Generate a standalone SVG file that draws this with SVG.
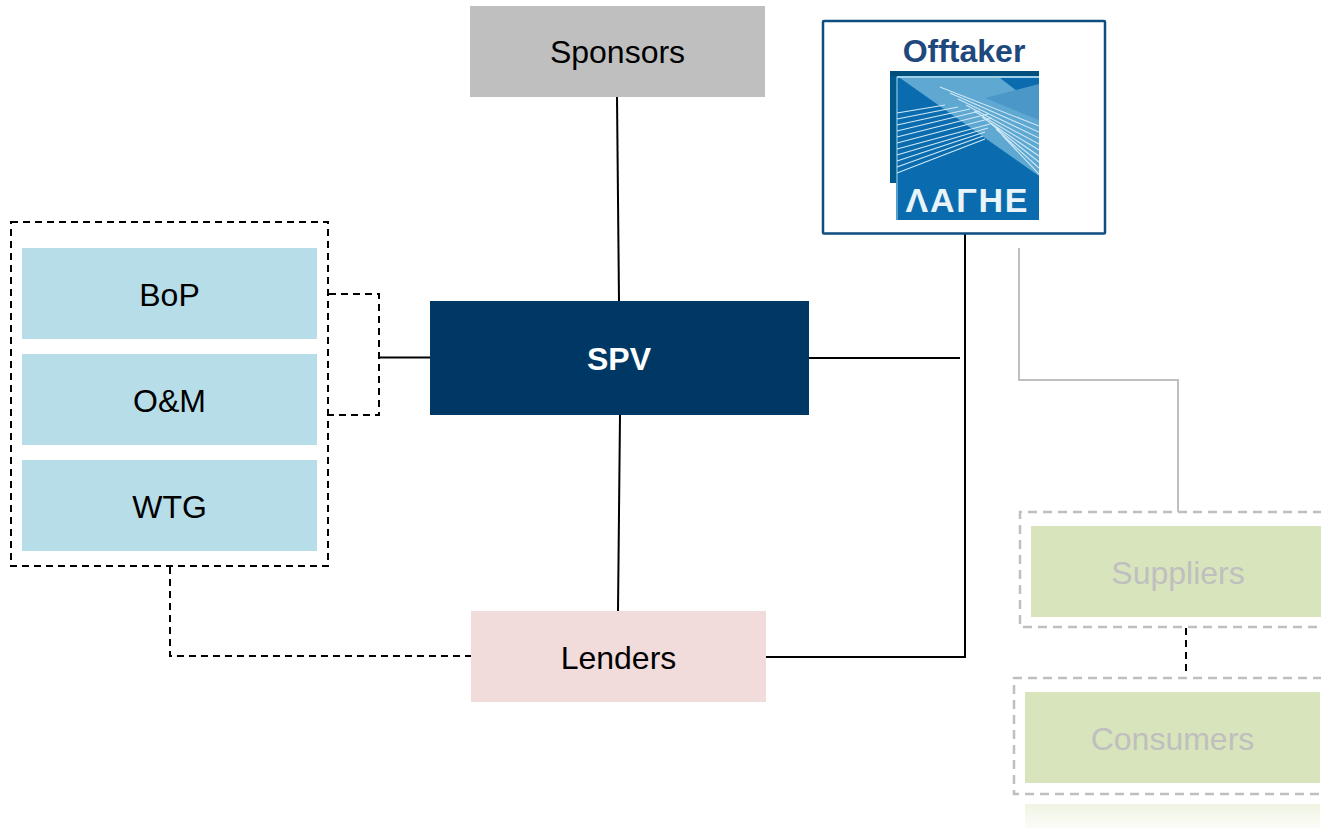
<svg xmlns="http://www.w3.org/2000/svg" width="1321" height="828" viewBox="0 0 1321 828">
<style>
text{font-family:"Liberation Sans",Arial,sans-serif;text-anchor:middle}
.l{font-size:32px;fill:#000}
.g{font-size:32px;fill:#bfbfbf}
.s{fill:none;stroke:#000;stroke-width:2}
.d{fill:none;stroke:#000;stroke-width:2;stroke-dasharray:7 5}
.gd{fill:none;stroke:#bfbfbf;stroke-width:2.500;stroke-dasharray:9 6}
.blue{fill:#b7dde8}
.green{fill:#d8e4bc}
.w{fill:none;stroke:#cfe8f5;stroke-width:1.100}
</style>
<defs>
<linearGradient id="fade" x1="0" y1="0" x2="0" y2="1"><stop offset="0" stop-color="#eff4e2"/><stop offset="1" stop-color="#fbfcf8"/></linearGradient>
<clipPath id="logoClip"><rect x="896" y="76" width="143" height="144"/></clipPath>
</defs>
<g id="connectors">
<path class="s" d="M617 97L619 301"/>
<path class="s" d="M620 415L618 611"/>
<path class="s" d="M809 358H960"/>
<path class="s" d="M965 234V657H766"/>
<path class="s" d="M380 357.500H430"/>
<path class="d" d="M329 294H379V415H329"/>
<path class="d" d="M170 567V656H471"/>
<path d="M1019 248V380H1178V512" fill="none" stroke="#bfbfbf" stroke-width="2"/>
<path class="d" d="M1186 628V676"/>
</g>
<g id="sponsors"><rect x="470" y="6" width="295" height="91" fill="#bfbfbf"/><text class="l" x="617.500" y="63">Sponsors</text></g>
<g id="offtaker">
<rect x="823" y="21" width="282" height="212.500" rx="1" fill="#fff" stroke="#0f4c81" stroke-width="2.500"/>
<text x="964" y="62" font-size="32" font-weight="700" fill="#1f497d">Offtaker</text>
<g id="logo">
<rect x="890" y="71" width="149" height="112" fill="#005a8c"/>
<rect x="890" y="71" width="149" height="5" fill="#004f7c"/>
<rect x="896" y="76" width="143" height="144" fill="#0a6cae"/>
<g clip-path="url(#logoClip)">
<path d="M900 78L1000 78L1039 108V176Z" fill="#5ea8d2"/>
<path d="M985 98L1039 84V120Z" fill="#4b97c8"/>
<path d="M897 77H1039" stroke="#9fd0e8" stroke-width="2" fill="none"/>
<path d="M897 77V220" stroke="#9fd0e8" stroke-width="1" fill="none"/>
<path class="w" d="M897 113L945 105M897 119L958 107M897 125L970 109M897 131L980 111M897 137L988 114M897 143L992 118M897 149L990 124M897 155L988 128M897 161L985 132M897 167L983 136M897 173L985 139"/>
<path class="w" d="M940 87L1039 126M950 93L1039 132M958 99L1039 138M966 105L1039 144M974 111L1039 150M982 117L1039 156M990 123L1039 162M996 129L1039 168M1002 135L1039 174"/>
</g>
<text x="966.500" y="212" font-size="34" font-weight="700" fill="#e9f4fa" textLength="122" lengthAdjust="spacing">ΛΑΓΗΕ</text>
</g>
</g>
<g id="contractors-group"><rect x="11" y="222" width="317" height="344" class="d"/></g>
<g id="bop"><rect x="22" y="248" width="295" height="91" class="blue"/><text class="l" x="169.500" y="306">BoP</text></g>
<g id="om"><rect x="22" y="354" width="295" height="91" class="blue"/><text class="l" x="169.500" y="412">O&amp;M</text></g>
<g id="wtg"><rect x="22" y="460" width="295" height="91" class="blue"/><text class="l" x="169.500" y="518">WTG</text></g>
<g id="spv"><rect x="430" y="301" width="379" height="114" fill="#003865"/><text x="619" y="370" font-size="32" font-weight="700" fill="#fff">SPV</text></g>
<g id="lenders"><rect x="471" y="611" width="295" height="91" fill="#f2dcdb"/><text class="l" x="618.500" y="669">Lenders</text></g>
<g id="suppliers"><path class="gd" d="M1322 512H1020V627H1322"/><rect x="1031" y="526" width="290" height="91" class="green"/><text class="g" x="1178" y="584">Suppliers</text></g>
<g id="consumers"><path class="gd" d="M1322 678H1014V794H1322"/><rect x="1025" y="692" width="295" height="91" class="green"/><text class="g" x="1172.500" y="750">Consumers</text></g>
<rect id="faded-block" x="1025" y="804" width="295" height="24" fill="url(#fade)"/>
</svg>
